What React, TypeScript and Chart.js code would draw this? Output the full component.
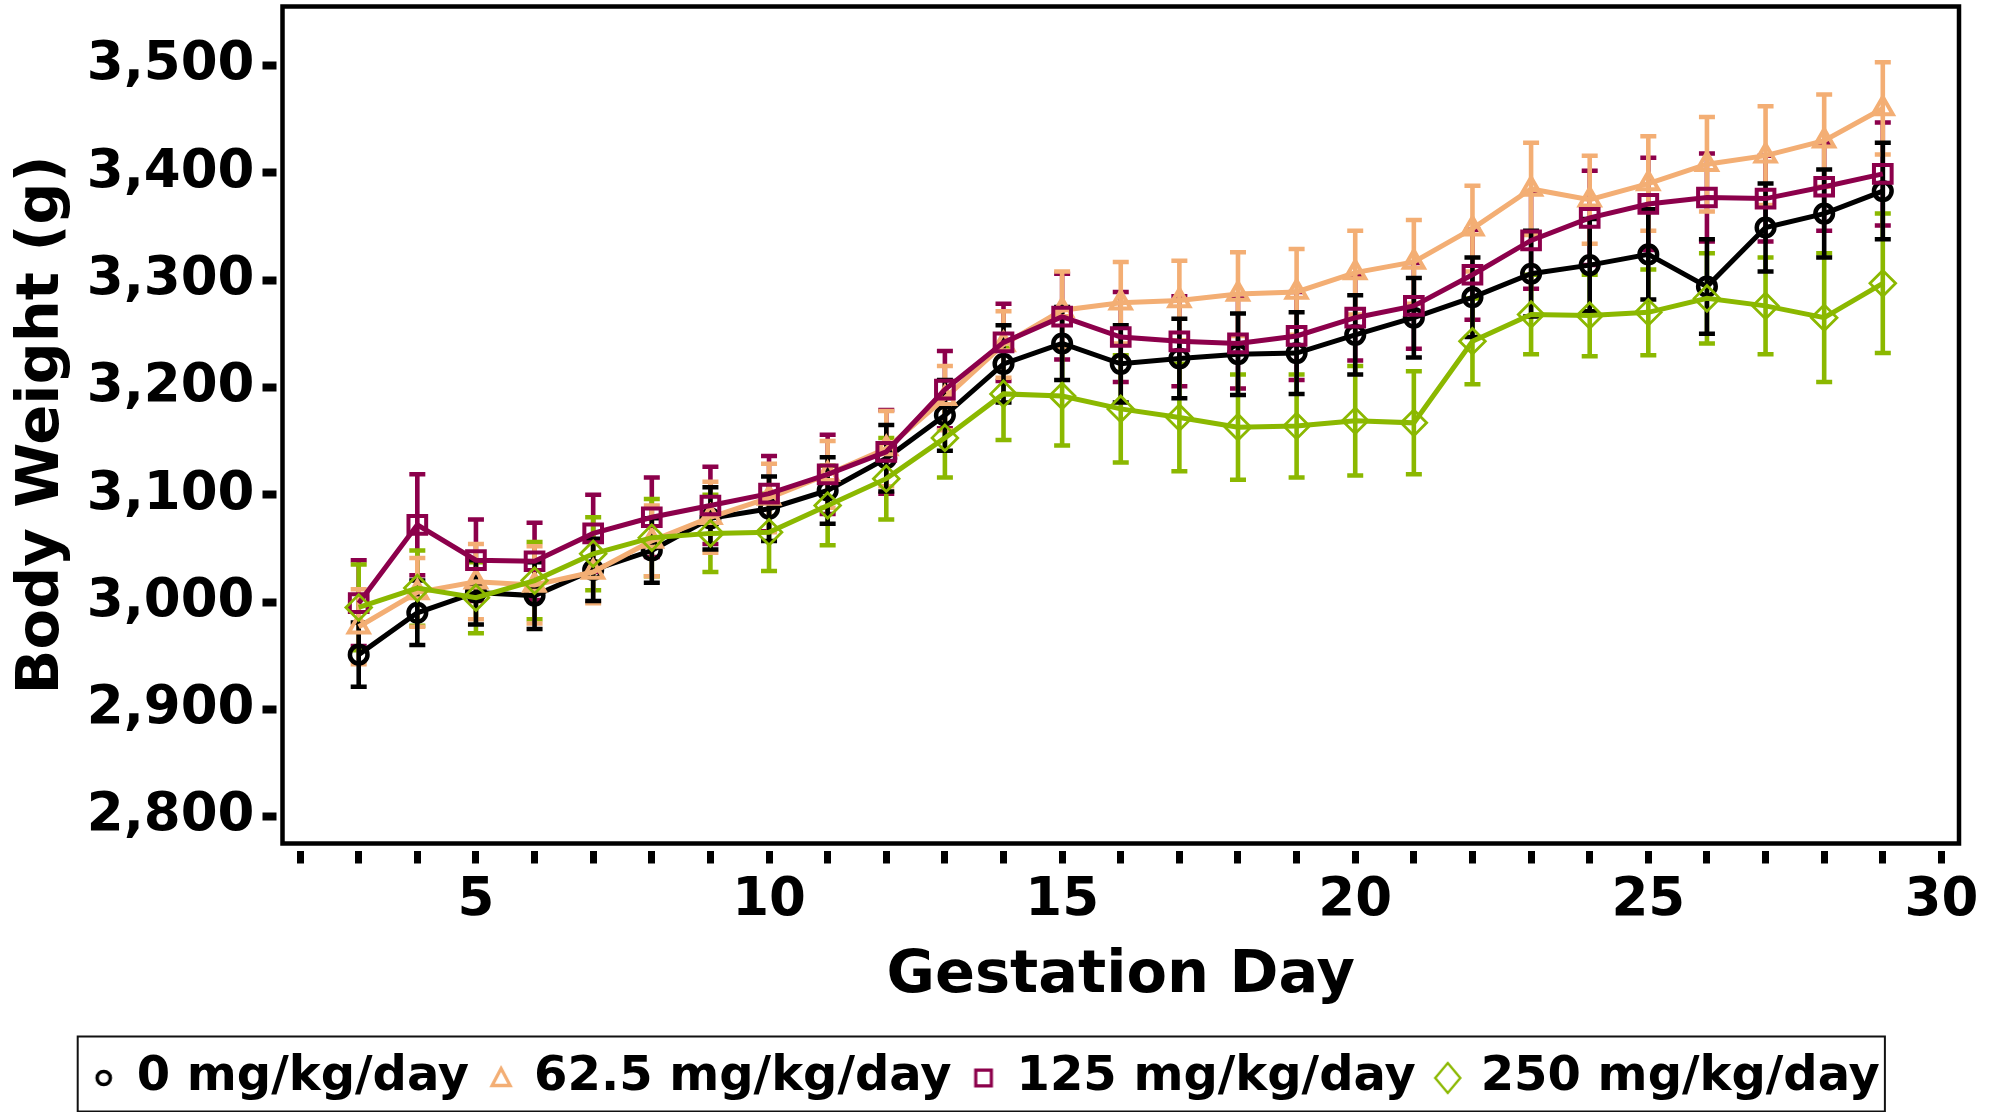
import React, { useEffect, useRef } from 'react';
import { Chart, registerables } from 'chart.js';

Chart.register(...registerables);

// ---------- data ----------
const days = [3, 4, 5, 6, 7, 8, 9, 10, 11, 12, 13, 14, 15, 16, 17, 18, 19, 20, 21, 22, 23, 24, 25, 26, 27, 28, 29];

const mean0 = [2951, 2990, 3009, 3006, 3030, 3048, 3078, 3087, 3104, 3134, 3174, 3222, 3241, 3222, 3227, 3231, 3232, 3249, 3265, 3284, 3306, 3314, 3324, 3294, 3349, 3362, 3383];
const err0 = [30, 30, 30, 31, 29, 30, 29, 30, 31, 31, 33, 36, 34, 36, 37, 38, 38, 37, 37, 37, 40, 43, 42, 44, 41, 41, 45];

const mean62 = [2977, 3009, 3019, 3016, 3028, 3057, 3079, 3097, 3119, 3143, 3190, 3240, 3272, 3279, 3281, 3287, 3289, 3307, 3317, 3348, 3385, 3375, 3390, 3408, 3416, 3430, 3460];
const err62 = [35, 32, 35, 36, 29, 33, 33, 32, 31, 35, 30, 31, 36, 38, 37, 39, 40, 39, 39, 40, 43, 41, 44, 44, 46, 43, 43];

const mean125 = [2999, 3072, 3039, 3038, 3064, 3079, 3090, 3101, 3119, 3140, 3198, 3242, 3266, 3247, 3243, 3241, 3248, 3265, 3276, 3305, 3337, 3358, 3371, 3377, 3376, 3387, 3399];
const err125 = [40, 47, 38, 36, 36, 37, 36, 35, 37, 39, 36, 36, 40, 42, 42, 42, 41, 40, 40, 42, 45, 44, 43, 41, 40, 41, 48];

const mean250 = [2995, 3013, 3004, 3020, 3045, 3060, 3064, 3065, 3090, 3115, 3153, 3194, 3192, 3180, 3172, 3163, 3164, 3169, 3167, 3243, 3268, 3267, 3270, 3283, 3276, 3265, 3297];
const err250 = [40, 35, 33, 36, 34, 36, 36, 36, 37, 38, 37, 43, 46, 50, 50, 49, 48, 51, 48, 40, 37, 38, 40, 42, 45, 60, 65];

const seriesLabels = ['0 mg/kg/day', '62.5 mg/kg/day', '125 mg/kg/day', '250 mg/kg/day'];
const seriesMeans = [mean0, mean62, mean125, mean250];
const seriesErrors = [err0, err62, err125, err250];

const xTickValues = [2, 3, 4, 5, 6, 7, 8, 9, 10, 11, 12, 13, 14, 15, 16, 17, 18, 19, 20, 21, 22, 23, 24, 25, 26, 27, 28, 29, 30];
const xLabeledTicks = [5, 10, 15, 20, 25, 30];
const yTickValues = [2800, 2900, 3000, 3100, 3200, 3300, 3400, 3500];

// ---------- styles ----------
const colors = ['#000000', '#F3AE74', '#8C004B', '#8BB800'];
const pointStyles = ['circle', 'triangle', 'rect', 'rectRot'];
const pointRadii = [8.8, 11.5, 12.5, 12.8];
const pointBorders = [4.5, 4, 4, 2.8];
const errorDrawOrder = [2, 3, 1, 0];
const FONT = "'DejaVu Sans', sans-serif";
const PAD_LEFT = 15.6;
const PLOT_LEFT = 282.5;

function makeMarker(kind: string, color: string): HTMLCanvasElement {
  const c = document.createElement('canvas');
  const size = kind === 'diamond' ? 36 : 28;
  c.width = size;
  c.height = size;
  const g = c.getContext('2d')!;
  g.strokeStyle = color;
  g.lineJoin = 'miter';
  const m = size / 2;
  g.beginPath();
  if (kind === 'circle') {
    g.lineWidth = 3.5;
    g.arc(m, m, 6.6, 0, Math.PI * 2);
  } else if (kind === 'triangle') {
    g.lineWidth = 3.3;
    g.moveTo(m, m - 9.5);
    g.lineTo(m + 9, m + 7.5);
    g.lineTo(m - 9, m + 7.5);
    g.closePath();
  } else if (kind === 'square') {
    g.lineWidth = 3.2;
    g.rect(m - 7.8, m - 7.8, 15.6, 15.6);
  } else {
    g.lineWidth = 2.4;
    g.moveTo(m, m - 15);
    g.lineTo(m + 12.5, m);
    g.lineTo(m, m + 15);
    g.lineTo(m - 12.5, m);
    g.closePath();
  }
  g.stroke();
  return c;
}

const errorBarPlugin = {
  id: 'errorBars',
  beforeDatasetsDraw(chart: any) {
    const ctx = chart.ctx;
    const ys = chart.scales.y;
    ctx.save();
    errorDrawOrder.forEach((di) => {
      const meta = chart.getDatasetMeta(di);
      const means = seriesMeans[di];
      const errs = seriesErrors[di];
      ctx.strokeStyle = colors[di];
      ctx.lineCap = 'butt';
      meta.data.forEach((pt: any, j: number) => {
        const x = pt.x;
        const top = ys.getPixelForValue(means[j] + errs[j]);
        const bot = ys.getPixelForValue(means[j] - errs[j]);
        ctx.lineWidth = 4.6;
        ctx.beginPath();
        ctx.moveTo(x, top);
        ctx.lineTo(x, bot);
        ctx.stroke();
        ctx.lineWidth = 4.5;
        ctx.beginPath();
        ctx.moveTo(x - 8, top);
        ctx.lineTo(x + 8, top);
        ctx.moveTo(x - 8, bot);
        ctx.lineTo(x + 8, bot);
        ctx.stroke();
      });
    });
    ctx.restore();
  },
};

const framePlugin = {
  id: 'frame',
  afterDraw(chart: any) {
    const { ctx, chartArea } = chart;
    ctx.save();
    ctx.strokeStyle = '#000';
    ctx.lineWidth = 4.5;
    ctx.strokeRect(chartArea.left, chartArea.top, chartArea.right - chartArea.left, chartArea.bottom - chartArea.top);
    const boxes = chart.legend && chart.legend.legendHitBoxes;
    if (boxes && boxes.length) {
      let l = Infinity, r = -Infinity, t = Infinity, b = -Infinity;
      boxes.forEach((h: any) => {
        l = Math.min(l, h.left);
        r = Math.max(r, h.left + h.width);
        t = Math.min(t, h.top);
        b = Math.max(b, h.top + h.height);
      });
      ctx.lineWidth = 2;
      ctx.strokeStyle = '#111';
      ctx.strokeRect(l - 17, t - 17.5, r - l + 22, b - t + 27);
    }
    ctx.restore();
  },
};

export default function App() {
  const ref = useRef<HTMLCanvasElement | null>(null);

  useEffect(() => {
    document.body.style.margin = '0';
    const canvas = ref.current;
    if (!canvas) return;
    const legendMarkers = [
      makeMarker('circle', colors[0]),
      makeMarker('triangle', colors[1]),
      makeMarker('square', colors[2]),
      makeMarker('diamond', colors[3]),
    ];

    const chart = new Chart(canvas, {
      type: 'line',
      data: {
        datasets: seriesLabels.map((label, i) => ({
          label,
          data: days.map((d, j) => ({ x: d, y: seriesMeans[i][j] })),
          borderColor: colors[i],
          backgroundColor: 'rgba(0,0,0,0)',
          borderWidth: 5,
          tension: 0,
          pointStyle: pointStyles[i] as any,
          pointRadius: pointRadii[i],
          pointBorderWidth: pointBorders[i],
          pointBorderColor: colors[i],
          pointBackgroundColor: 'rgba(0,0,0,0)',
          order: 4 - i,
          clip: false as any,
        })),
      },
      options: {
        animation: false,
        responsive: false,
        devicePixelRatio: 1,
        events: [],
        layout: { autoPadding: false, padding: { left: PAD_LEFT, right: 37, top: 6.5, bottom: 0 } },
        plugins: {
          tooltip: { enabled: false },
          legend: {
            position: 'bottom',
            align: 'center',
            labels: {
              usePointStyle: true,
              boxWidth: 18,
              boxHeight: 18,
              padding: 23,
              color: '#000',
              font: { family: FONT, size: 48, weight: 'bold' },
              generateLabels: () =>
                seriesLabels.map((t, i) => ({
                  text: t,
                  datasetIndex: i,
                  pointStyle: legendMarkers[i] as any,
                  fillStyle: 'rgba(0,0,0,0)',
                  strokeStyle: colors[i],
                  lineWidth: 0,
                  hidden: false,
                  fontColor: '#000',
                })),
            },
          },
        },
        scales: {
          x: {
            type: 'linear',
            min: 1.7,
            max: 30.3,
            afterBuildTicks: (s: any) => {
              s.ticks = xTickValues.map((v) => ({ value: v }));
            },
            afterFit: (s: any) => {
              s.height = 187.5;
              s.paddingLeft = 0;
              s.paddingRight = 0;
            },
            ticks: {
              autoSkip: false,
              maxRotation: 0,
              includeBounds: false,
              padding: 6,
              color: '#000',
              font: { family: FONT, size: 53, weight: 'bold' },
              callback: (v: any) => (xLabeledTicks.includes(Number(v)) ? String(v) : ''),
            },
            grid: {
              drawOnChartArea: false,
              drawTicks: true,
              tickLength: 20,
              tickWidth: 7,
              tickColor: '#000',
              tickBorderDash: [0, 7, 13, 100],
            },
            border: { display: false },
            title: {
              display: true,
              text: 'Gestation Day',
              color: '#000',
              font: { family: FONT, size: 59, weight: 'bold', lineHeight: 1.2 },
              padding: { top: 0, bottom: 18.6 },
            },
          },
          y: {
            type: 'linear',
            min: 2775,
            max: 3555,
            afterBuildTicks: (s: any) => {
              s.ticks = yTickValues.map((v) => ({ value: v }));
            },
            afterFit: (s: any) => {
              s.width = PLOT_LEFT - PAD_LEFT;
              s.paddingTop = 0;
              s.paddingBottom = 0;
            },
            ticks: {
              padding: 8,
              color: '#000',
              font: { family: FONT, size: 53, weight: 'bold' },
              callback: (v: any) => Number(v).toLocaleString('en-US'),
            },
            grid: {
              drawOnChartArea: false,
              drawTicks: true,
              tickLength: 20,
              tickWidth: 8,
              tickColor: '#000',
              tickBorderDash: [14, 100],
            },
            border: { display: false },
            title: {
              display: true,
              text: 'Body Weight (g)',
              color: '#000',
              font: { family: FONT, size: 59, weight: 'bold', lineHeight: 1.2 },
              padding: { top: 42.5 - PAD_LEFT - 35.4, bottom: 0 },
            },
          },
        },
      },
      plugins: [errorBarPlugin, framePlugin],
    } as any);

    return () => chart.destroy();
  }, []);

  return (
    <div style={{ position: 'absolute', left: 0, top: 0, width: 1996, height: 1112, background: '#fff' }}>
      <canvas ref={ref} width={1996} height={1112} style={{ display: 'block', width: 1996, height: 1112 }} />
    </div>
  );
}
